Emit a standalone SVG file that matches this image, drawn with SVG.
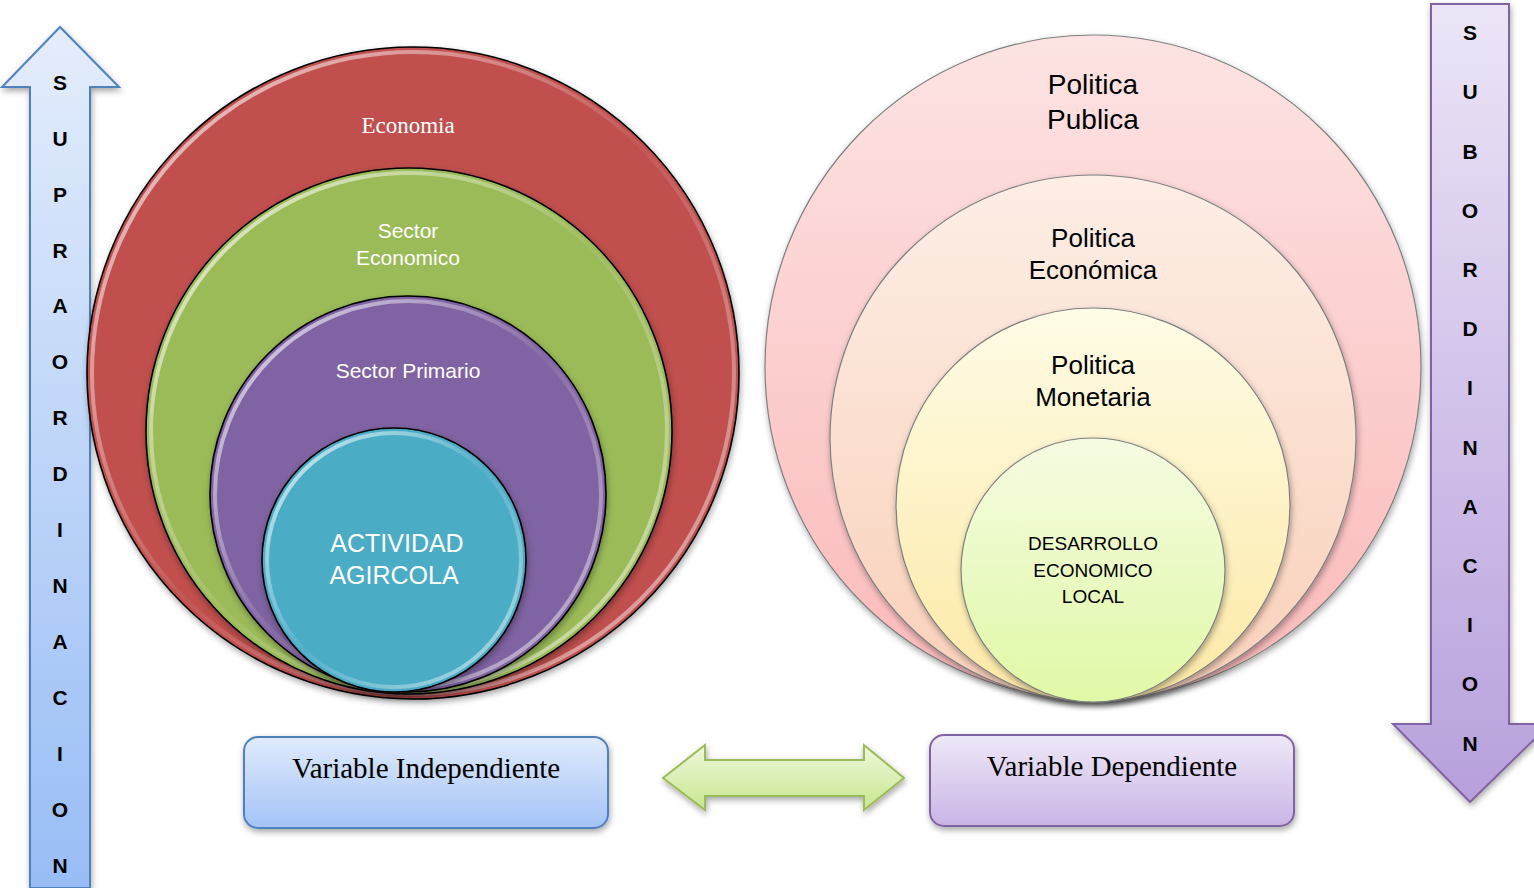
<svg xmlns="http://www.w3.org/2000/svg" width="1534" height="888" viewBox="0 0 1534 888">
<style>
.lt{font-family:"Liberation Sans",Arial,sans-serif;text-anchor:middle}
.wt{fill:#ffffff}
.bk{fill:#000000}
.tm{font-family:"Liberation Serif","Times New Roman",serif;text-anchor:middle}
.arrowtxt{font-family:"Liberation Sans",Arial,sans-serif;font-weight:bold;font-size:21px;text-anchor:middle;fill:#000}
.lc{stroke:#000;stroke-width:1.6}
.rc{stroke:#7f7f7f;stroke-width:1.2}
.rim{fill:none;stroke:url(#rimG);stroke-width:4}
</style>
<defs>
<filter id="sh" x="-10%" y="-10%" width="120%" height="125%">
<feDropShadow dx="1" dy="3" stdDeviation="3" flood-color="#000" flood-opacity="0.35"/>
</filter>
<linearGradient id="rimG" x1="0" y1="0" x2="1" y2="1">
<stop offset="0" stop-color="#fff" stop-opacity="0.8"/>
<stop offset="0.5" stop-color="#fff" stop-opacity="0.05"/>
<stop offset="1" stop-color="#fff" stop-opacity="0.6"/>
</linearGradient>
<linearGradient id="pk" x1="0" y1="0" x2="0" y2="1">
<stop offset="0" stop-color="#fde3e3"/><stop offset="1" stop-color="#fbb9b9"/>
</linearGradient>
<linearGradient id="pe" x1="0" y1="0" x2="0" y2="1">
<stop offset="0" stop-color="#fdeee6"/><stop offset="1" stop-color="#f9d0b9"/>
</linearGradient>
<linearGradient id="ye" x1="0" y1="0" x2="0" y2="1">
<stop offset="0" stop-color="#fefce6"/><stop offset="1" stop-color="#fde9a6"/>
</linearGradient>
<linearGradient id="gy" x1="0" y1="0" x2="0" y2="1">
<stop offset="0" stop-color="#f5fbe2"/><stop offset="1" stop-color="#e0f9a6"/>
</linearGradient>
<linearGradient id="blueBox" x1="0" y1="0" x2="0" y2="1">
<stop offset="0" stop-color="#e0ebfc"/><stop offset="1" stop-color="#a3c3f7"/>
</linearGradient>
<linearGradient id="lavBox" x1="0" y1="0" x2="0" y2="1">
<stop offset="0" stop-color="#efe8f8"/><stop offset="1" stop-color="#c8b5e5"/>
</linearGradient>
<linearGradient id="greenArr" x1="0" y1="0" x2="0" y2="1">
<stop offset="0" stop-color="#eef8dc"/><stop offset="1" stop-color="#c8e68f"/>
</linearGradient>
<linearGradient id="upArr" x1="0" y1="0" x2="0" y2="1">
<stop offset="0" stop-color="#e4edfc"/><stop offset="1" stop-color="#98bdf5"/>
</linearGradient>
<linearGradient id="downArr" x1="0" y1="0" x2="0" y2="1">
<stop offset="0" stop-color="#ece5f7"/><stop offset="1" stop-color="#b7a0dc"/>
</linearGradient>
</defs>

<g id="arrow-supraordinacion">
<path d="M30,888 L30,87 L2,87 L60,27 L119,87 L90,87 L90,888 Z" fill="url(#upArr)" stroke="#4f81bd" stroke-width="2" filter="url(#sh)"/>
<text class="arrowtxt" x="60" y="90">S</text>
<text class="arrowtxt" x="60" y="146">U</text>
<text class="arrowtxt" x="60" y="202">P</text>
<text class="arrowtxt" x="60" y="258">R</text>
<text class="arrowtxt" x="60" y="313">A</text>
<text class="arrowtxt" x="60" y="369">O</text>
<text class="arrowtxt" x="60" y="425">R</text>
<text class="arrowtxt" x="60" y="481">D</text>
<text class="arrowtxt" x="60" y="537">I</text>
<text class="arrowtxt" x="60" y="593">N</text>
<text class="arrowtxt" x="60" y="649">A</text>
<text class="arrowtxt" x="60" y="705">C</text>
<text class="arrowtxt" x="60" y="761">I</text>
<text class="arrowtxt" x="60" y="817">O</text>
<text class="arrowtxt" x="60" y="873">N</text>
</g>

<g id="arrow-subordinacion">
<path d="M1431,4 L1509,4 L1509,724 L1550,724 L1470,802 L1393,724 L1431,724 Z" fill="url(#downArr)" stroke="#8064a2" stroke-width="2" filter="url(#sh)"/>
<text class="arrowtxt" x="1470" y="40">S</text>
<text class="arrowtxt" x="1470" y="99">U</text>
<text class="arrowtxt" x="1470" y="159">B</text>
<text class="arrowtxt" x="1470" y="218">O</text>
<text class="arrowtxt" x="1470" y="277">R</text>
<text class="arrowtxt" x="1470" y="336">D</text>
<text class="arrowtxt" x="1470" y="395">I</text>
<text class="arrowtxt" x="1470" y="455">N</text>
<text class="arrowtxt" x="1470" y="514">A</text>
<text class="arrowtxt" x="1470" y="573">C</text>
<text class="arrowtxt" x="1470" y="632">I</text>
<text class="arrowtxt" x="1470" y="691">O</text>
<text class="arrowtxt" x="1470" y="751">N</text>
</g>

<g id="circle-economia">
<circle cx="413" cy="373" r="326" fill="#c0504d" class="lc" filter="url(#sh)"/>
<circle cx="413" cy="373" r="321" class="rim"/>
<text class="tm wt" x="408" y="133" font-size="23">Economia</text>
</g>
<g id="circle-sector-economico">
<circle cx="409" cy="431" r="263" fill="#9bbb59" class="lc" filter="url(#sh)"/>
<circle cx="409" cy="431" r="258" class="rim"/>
<text class="lt wt" x="408" y="238" font-size="21">Sector</text>
<text class="lt wt" x="408" y="265" font-size="21">Economico</text>
</g>
<g id="circle-sector-primario">
<circle cx="408" cy="494" r="198" fill="#8064a2" class="lc" filter="url(#sh)"/>
<circle cx="408" cy="494" r="193" class="rim"/>
<text class="lt wt" x="408" y="378" font-size="21">Sector Primario</text>
</g>
<g id="circle-actividad">
<circle cx="394" cy="560" r="132" fill="#4bacc6" class="lc" filter="url(#sh)"/>
<circle cx="394" cy="560" r="127" class="rim"/>
<text class="lt wt" x="397" y="552" font-size="25">ACTIVIDAD</text>
<text class="lt wt" x="394" y="584" font-size="25">AGIRCOLA</text>
</g>

<g id="circle-politica-publica">
<ellipse cx="1093" cy="367" rx="328" ry="332" fill="url(#pk)" class="rc" filter="url(#sh)"/>
<text class="lt bk" x="1093" y="94" font-size="28">Politica</text>
<text class="lt bk" x="1093" y="129" font-size="28">Publica</text>
</g>
<g id="circle-politica-economica">
<circle cx="1093" cy="438" r="263" fill="url(#pe)" class="rc" filter="url(#sh)"/>
<text class="lt bk" x="1093" y="247" font-size="26">Politica</text>
<text class="lt bk" x="1093" y="279" font-size="26">Económica</text>
</g>
<g id="circle-politica-monetaria">
<circle cx="1093" cy="505" r="197" fill="url(#ye)" class="rc" filter="url(#sh)"/>
<text class="lt bk" x="1093" y="374" font-size="26">Politica</text>
<text class="lt bk" x="1093" y="406" font-size="26">Monetaria</text>
</g>
<g id="circle-desarrollo">
<circle cx="1093" cy="570" r="132" fill="url(#gy)" class="rc" filter="url(#sh)"/>
<text class="lt bk" x="1093" y="550" font-size="19">DESARROLLO</text>
<text class="lt bk" x="1093" y="577" font-size="19">ECONOMICO</text>
<text class="lt bk" x="1093" y="603" font-size="19">LOCAL</text>
</g>

<g id="box-independiente">
<rect x="244" y="737" width="364" height="91" rx="14" fill="url(#blueBox)" stroke="#4f81bd" stroke-width="2" filter="url(#sh)"/>
<text class="tm bk" x="426" y="778" font-size="29">Variable Independiente</text>
</g>
<g id="box-dependiente">
<rect x="930" y="735" width="364" height="91" rx="14" fill="url(#lavBox)" stroke="#8064a2" stroke-width="2" filter="url(#sh)"/>
<text class="tm bk" x="1112" y="776" font-size="29">Variable Dependiente</text>
</g>

<g id="connectors">
<path d="M663,778 L705,745 L705,760 L864,760 L864,745 L904,778 L864,810 L864,796 L705,796 L705,810 Z" fill="url(#greenArr)" stroke="#9bbb59" stroke-width="2" filter="url(#sh)"/>
</g>
</svg>
